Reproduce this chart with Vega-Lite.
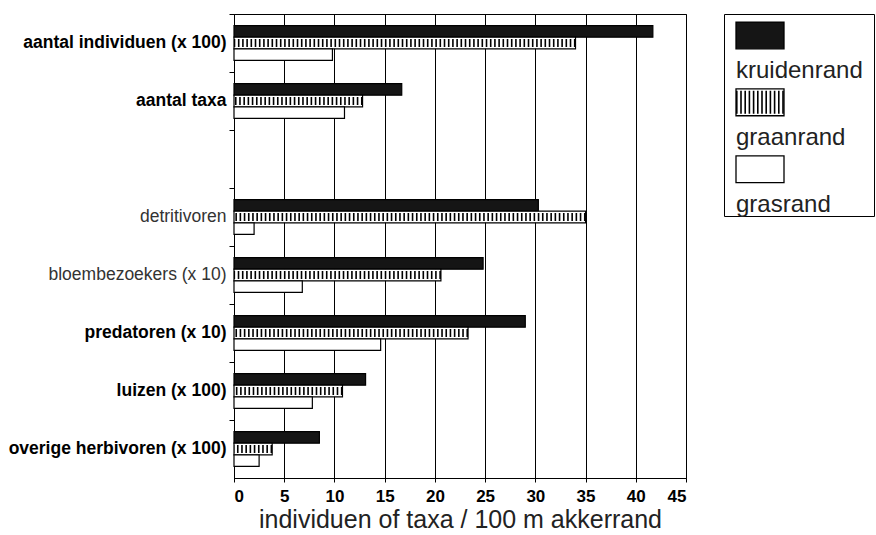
{
  "$schema": "https://vega.github.io/schema/vega-lite/v6.json",
  "background": "white",
  "padding": {"left": 7, "top": 13, "right": 0, "bottom": 0},
  "spacing": 36,
  "config": {
    "font": "Liberation Sans",
    "view": {"stroke": "black", "strokeWidth": 1}
  },
  "hconcat": [
    {
      "width": 452,
      "height": 464,
      "data": {
        "values": [
          {"cat": "aantal individuen (x 100)", "serie": "kruidenrand", "v": 41.7},
          {"cat": "aantal individuen (x 100)", "serie": "graanrand", "v": 34.0},
          {"cat": "aantal individuen (x 100)", "serie": "grasrand", "v": 9.8},
          {"cat": "aantal taxa", "serie": "kruidenrand", "v": 16.7},
          {"cat": "aantal taxa", "serie": "graanrand", "v": 12.8},
          {"cat": "aantal taxa", "serie": "grasrand", "v": 11.0},
          {"cat": "detritivoren", "serie": "kruidenrand", "v": 30.3},
          {"cat": "detritivoren", "serie": "graanrand", "v": 35.0},
          {"cat": "detritivoren", "serie": "grasrand", "v": 2.0},
          {"cat": "bloembezoekers (x 10)", "serie": "kruidenrand", "v": 24.8},
          {"cat": "bloembezoekers (x 10)", "serie": "graanrand", "v": 20.6},
          {"cat": "bloembezoekers (x 10)", "serie": "grasrand", "v": 6.8},
          {"cat": "predatoren (x 10)", "serie": "kruidenrand", "v": 29.0},
          {"cat": "predatoren (x 10)", "serie": "graanrand", "v": 23.3},
          {"cat": "predatoren (x 10)", "serie": "grasrand", "v": 14.6},
          {"cat": "luizen (x 100)", "serie": "kruidenrand", "v": 13.1},
          {"cat": "luizen (x 100)", "serie": "graanrand", "v": 10.8},
          {"cat": "luizen (x 100)", "serie": "grasrand", "v": 7.8},
          {"cat": "overige herbivoren (x 100)", "serie": "kruidenrand", "v": 8.5},
          {"cat": "overige herbivoren (x 100)", "serie": "graanrand", "v": 3.8},
          {"cat": "overige herbivoren (x 100)", "serie": "grasrand", "v": 2.5}
        ]
      },
      "encoding": {
        "y": {
          "field": "cat",
          "type": "nominal",
          "scale": {
            "domain": ["aantal individuen (x 100)", "aantal taxa", " ", "detritivoren", "bloembezoekers (x 10)", "predatoren (x 10)", "luizen (x 100)", "overige herbivoren (x 100)"],
            "paddingInner": 0,
            "paddingOuter": 0
          },
          "axis": {
            "title": null,
            "bandPosition": 0,
            "labelLimit": 400,
            "domainColor": "black",
            "tickColor": "black",
            "tickSize": 5,
            "labelPadding": 3,
            "labelFontSize": 17.5,
            "labelFontWeight": {"condition": {"test": "datum.value == 'detritivoren' || datum.value == 'bloembezoekers (x 10)'", "value": "normal"}, "value": "bold"},
            "labelColor": {"condition": {"test": "datum.value == 'detritivoren' || datum.value == 'bloembezoekers (x 10)'", "value": "#333333"}, "value": "black"}
          }
        },
        "yOffset": {
          "field": "serie",
          "type": "nominal",
          "sort": ["kruidenrand", "graanrand", "grasrand"],
          "scale": {"paddingInner": 0, "paddingOuter": 1.14}
        }
      },
      "layer": [
        {
          "mark": {"type": "bar", "stroke": "black", "strokeWidth": 1.2},
          "encoding": {
            "x": {
              "field": "v",
              "type": "quantitative",
              "scale": {"domain": [0, 45], "nice": false},
              "axis": {
                "values": [0, 5, 10, 15, 20, 25, 30, 35, 40, 45],
                "grid": true,
                "gridColor": "black",
                "gridOpacity": 1,
                "gridWidth": 1,
                "domainColor": "black",
                "tickColor": "black",
                "tickSize": 4,
                "labelFontSize": 17,
                "labelFontWeight": "bold",
                "labelColor": "black",
                "labelPadding": 6,
                "title": "individuen of taxa / 100 m akkerrand",
                "titleFontSize": 25,
                "titleFontWeight": "normal",
                "titleColor": "#222222",
                "titlePadding": 3
              }
            },
            "fill": {
              "field": "serie",
              "type": "nominal",
              "scale": {"domain": ["kruidenrand", "graanrand", "grasrand"], "range": ["#151515", "white", "white"]},
              "legend": null
            }
          }
        },
        {
          "transform": [{"filter": "datum.serie == 'graanrand'"}],
          "mark": {"type": "rule", "color": "black", "strokeWidth": 8, "strokeDash": [1.6, 2.6]},
          "encoding": {
            "x": {"field": "v", "type": "quantitative"},
            "x2": {"datum": 0}
          }
        }
      ]
    },
    {
      "width": 150,
      "height": 202,
      "data": {"values": [{"serie": "kruidenrand"}, {"serie": "graanrand"}, {"serie": "grasrand"}]},
      "encoding": {
        "y": {
          "field": "serie",
          "type": "nominal",
          "sort": ["kruidenrand", "graanrand", "grasrand"],
          "scale": {"paddingInner": 0.6, "paddingOuter": 0.31, "align": 0.195},
          "axis": null
        }
      },
      "layer": [
        {
          "mark": {"type": "bar", "stroke": "black", "strokeWidth": 1.3},
          "encoding": {
            "x": {"datum": 0.8, "type": "quantitative", "scale": {"domain": [0, 10], "nice": false}, "axis": null},
            "x2": {"datum": 4.0},
            "fill": {
              "field": "serie",
              "type": "nominal",
              "scale": {"domain": ["kruidenrand", "graanrand", "grasrand"], "range": ["#151515", "white", "white"]},
              "legend": null
            }
          }
        },
        {
          "transform": [{"filter": "datum.serie == 'graanrand'"}],
          "mark": {"type": "rule", "color": "black", "strokeWidth": 23, "strokeDash": [1.6, 2.6]},
          "encoding": {
            "x": {"datum": 0.8, "type": "quantitative"},
            "x2": {"datum": 4.0}
          }
        },
        {
          "mark": {"type": "text", "align": "left", "baseline": "alphabetic", "dy": 43, "fontSize": 24, "color": "#222222"},
          "encoding": {
            "x": {"datum": 0.8, "type": "quantitative"},
            "text": {"field": "serie"}
          }
        }
      ]
    }
  ]
}
